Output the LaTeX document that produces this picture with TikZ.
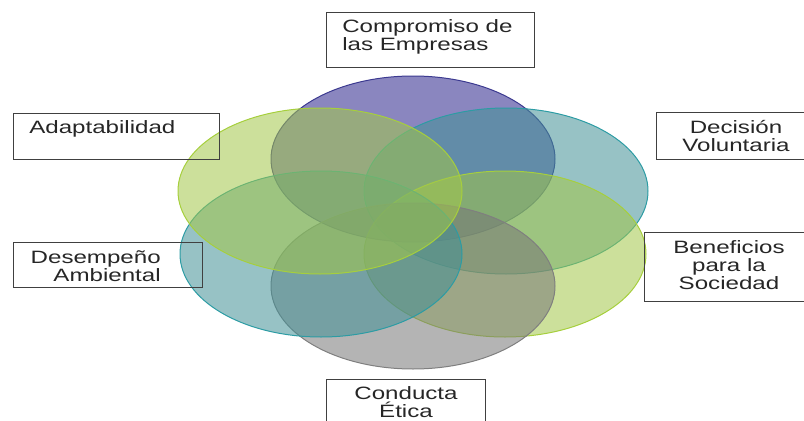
\documentclass[tikz,border=0pt]{standalone}
\usepackage{fontspec}
\newfontfamily\boxfont[FakeStretch=1.35]{Liberation Sans}
\definecolor{cpurple}{HTML}{2A238B}
\definecolor{cpurpled}{HTML}{3C3A90}
\definecolor{cgreen}{HTML}{A2C749}
\definecolor{cgreend}{HTML}{A6CF3C}
\definecolor{cteal}{HTML}{429096}
\definecolor{cteald}{HTML}{2C9CA4}
\definecolor{cgray}{HTML}{777777}
\definecolor{cgrayd}{HTML}{7F7F7F}
\definecolor{ctext}{HTML}{262626}
\begin{document}
\begin{tikzpicture}[x=0.75pt,y=-0.75pt]

\tikzset{blob/.style={line width=0.75pt,fill opacity=0.55}}
\tikzset{box/.style={draw=black!75,line width=0.75pt}}
\tikzset{txt/.style={inner sep=0pt,text=ctext,font=\boxfont\fontsize{13.4}{13.5}\selectfont}}

\useasboundingbox (0,0) rectangle (804,421);
\clip (0,0) rectangle (804,421);

\draw[blob,draw=cpurpled,fill=cpurple] (413,159) ellipse [x radius=142, y radius=83];
\draw[blob,draw=cteald,fill=cteal] (506,191) ellipse [x radius=142, y radius=83];
\draw[blob,draw=cgreend,fill=cgreen] (505,254) ellipse [x radius=141, y radius=83];
\draw[blob,draw=cgrayd,fill=cgray] (413,286) ellipse [x radius=142, y radius=83];
\draw[blob,draw=cteald,fill=cteal] (321,254) ellipse [x radius=141, y radius=83];
\draw[blob,draw=cgreend,fill=cgreen] (320,191) ellipse [x radius=142, y radius=83];

\draw[box] (326,12) rectangle (534,67);
\draw[box] (13,113) rectangle (219,159);
\draw[box] (656,112) rectangle (820,159);
\draw[box] (13,242) rectangle (202,287);
\draw[box] (644,232) rectangle (820,301);
\draw[box] (326,379) rectangle (485,440);

\node[txt,anchor=west,align=left] (t1) at (342,37) {Compromiso de\\las Empresas};
\node[txt,anchor=base west] (t2) at (29,133.4) {Adaptabilidad};
\node[txt,align=center] (t3) at (736,136.4) {Decisión\\Voluntaria};
\node[txt,anchor=east,align=right] (t4) at (161,266.4) {Desempeño\\Ambiental};
\node[txt,align=center] (t5) at (729,265.1) {Beneficios\\para la\\Sociedad};
\node[txt,align=center] (t6) at (406,402.4) {Conducta\\Ética};

\end{tikzpicture}
\end{document}
